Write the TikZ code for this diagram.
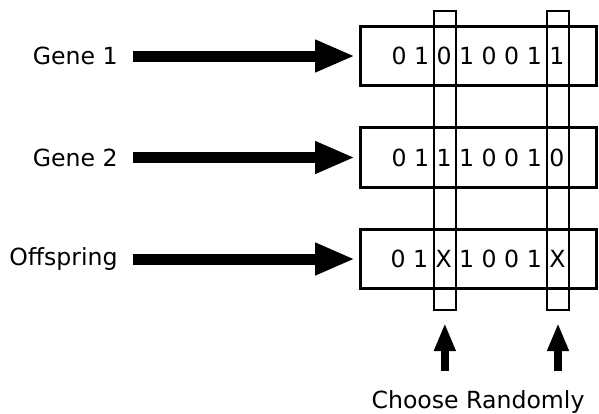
\documentclass[tikz,border=0pt]{standalone}
\usepackage{fontspec}
\setmainfont{DejaVu Sans}
\usetikzlibrary{positioning, arrows.meta}

\begin{document}
\begin{tikzpicture}
    [
        x=0.5pt, y=-0.5pt, node distance=50.75pt, on grid,
        every node/.style={font=\fontsize{11.8pt}{14pt}\selectfont},
        gene_box/.style={rectangle, draw=black, line width=1.5pt, minimum width=118pt, minimum height=29.75pt, inner sep=0pt},
        pick_col/.style={rectangle, draw=black, line width=1pt, minimum height=149.5pt, inner sep=0pt},
        gene_label/.style={inner sep=0pt, anchor=east},
        big_arrow/.style={-{Triangle[length=20pt, width=15pt]}, line width=5.5pt, shorten >=1.75pt},
        up_arrow/.style={-{Triangle[length=14pt, width=10pt]}, line width=4pt, shorten >=6pt},
    ]
        \useasboundingbox (0,0) rectangle (599,413);
        \node[gene_box] (box1) at (478,56) {0 1 0 1 0 0 1 1};
        \node[gene_box] (box2) [below = of box1] {0 1 1 1 0 0 1 0};
        \node[gene_box] (box3) [below = of box2] {0 1 X 1 0 0 1 X};
        \node[pick_col, minimum width=11.15pt] (col1) at (444.85,160.5) {};
        \node[pick_col, minimum width=11.3pt] (col2) at (558,160.5) {};
        \node[gene_label] (lbl1) at (118,56) {Gene 1};
        \node[gene_label] (lbl2) at (118,157.5) {Gene 2};
        \node[gene_label] (lbl3) at (118,259) {Offspring};
        \node[anchor=base] (choose) at (478,408) {Choose Randomly};
        \draw[big_arrow] ([xshift=7.5pt]lbl1.east) -- (box1.west) ;
        \draw[big_arrow] ([xshift=7.5pt]lbl2.east) -- (box2.west) ;
        \draw[big_arrow] ([xshift=7.5pt]lbl3.east) -- (box3.west) ;
        \draw[up_arrow] ([yshift=-30pt]col1.south) -- (col1.south) ;
        \draw[up_arrow] ([yshift=-30pt]col2.south) -- (col2.south) ;
    \end{tikzpicture}
\end{document}
